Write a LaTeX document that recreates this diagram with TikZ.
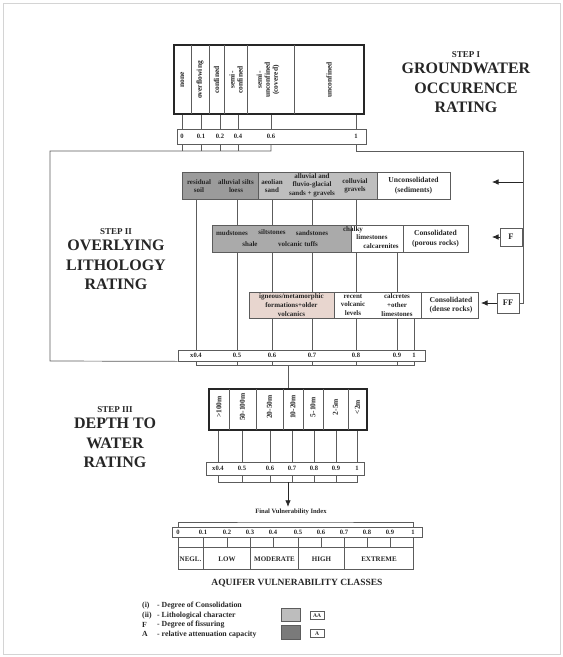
\documentclass[tikz,border=0pt]{standalone}
\usepackage{fontspec}
\setmainfont{Liberation Serif}
\usetikzlibrary{arrows.meta,backgrounds,positioning}
\definecolor{ink}{HTML}{262626}
\definecolor{linegray}{HTML}{5C5C5C}
\definecolor{framegray}{HTML}{D4D4D4}
\definecolor{darkfill}{HTML}{9B9B9B}
\definecolor{lightfill}{HTML}{BEBEBE}
\definecolor{midfill}{HTML}{AAAAAA}
\definecolor{pinkfill}{HTML}{E8D6CF}
\definecolor{legdark}{HTML}{7A7A7A}
\definecolor{leglight}{HTML}{BDBDBD}
\newcommand{\labfont}{\fontsize{7}{8.6}\selectfont\bfseries}
\newcommand{\colfont}{\fontsize{7.5}{8}\selectfont\bfseries}
\newcommand{\bigcellfont}{\fontsize{7.6}{9.5}\selectfont\bfseries}
\newcommand{\valfont}{\fontsize{6.6}{7}\selectfont\bfseries}
\newcommand{\titlefont}{\fontsize{16}{19.5}\selectfont\bfseries}
\newcommand{\stepfont}{\fontsize{9}{10}\selectfont\bfseries}
\tikzset{
  link/.style={draw=linegray,line width=0.7pt},
  flowarr/.style={-{Latex[length=6.5pt,width=5.5pt]},draw=ink,line width=0.7pt},
  cellbox/.style={draw=linegray,line width=0.7pt,inner sep=0pt,align=center,font=\labfont,text=ink},
  thickbox/.style={draw=ink,line width=1.6pt,inner sep=0pt},
  lab/.style={inner sep=0pt,align=center,font=\labfont,text=ink},
  vlab/.style={lab,rotate=90,font=\colfont},
  val/.style={inner sep=0pt,font=\valfont,text=ink},
  tagbox/.style={draw=linegray,fill=white,line width=0.7pt,inner sep=0pt,font=\fontsize{8.5}{9}\selectfont\bfseries,text=ink,minimum width=22pt},
  legbox/.style={draw=linegray,line width=0.6pt,inner sep=0pt,font=\fontsize{5.5}{6}\selectfont\bfseries,text=ink,minimum width=14pt,minimum height=8pt},
  steptitle/.style={inner sep=0pt,align=center,font=\titlefont,text=ink},
  steplab/.style={inner sep=0pt,font=\stepfont,text=ink},
  legtext/.style={inner sep=0pt,anchor=west,font=\fontsize{7.8}{9}\selectfont\bfseries,text=ink}
}

\begin{document}
\begin{tikzpicture}[x=1pt,y=-1pt]
  \useasboundingbox (0,0) rectangle (563,657);
  \draw[framegray,line width=0.8pt] (3,3) rectangle (560,654);

  % step I : groundwater occurrence
  \node[thickbox,minimum width=190pt,minimum height=69pt] (occ) at (269,79.5) {};
  \foreach \x in {191,209,224,247,294} \draw[link] (\x,45) -- (\x,114);
  \node[vlab] (oc1) at (182.5,80) {none};
  \node[vlab] (oc2) at (200,80) {overflowing};
  \node[vlab] (oc3) at (216.5,80) {confined};
  \node[vlab] (oc4) at (236,80) {semi-\\confined};
  \node[vlab] (oc5) at (268,80) {semi-\\unconfined\\(covered)};
  \node[vlab] (oc6) at (329,80) {unconfined};

  \node[steptitle] (t1) at (466,88) {GROUNDWATER\\OCCURENCE\\RATING};
  \node[steplab,above=5pt of t1] (st1) {STEP I};

  \node[draw=linegray,line width=0.7pt,inner sep=0pt,minimum width=189pt,minimum height=15pt] (sc1) at (271.5,136.5) {};
  \foreach \v/\x/\n in {0/182/a,0.1/201/b,0.2/220/c,0.4/238/d,0.6/271/e,1/356/f}
    \node[val] (s1\n) at (\x,136.5) {\v};
  \foreach \n in {a,b,c,d,e,f} \draw[link] (s1\n |- occ.south) -- (s1\n |- sc1.north);

  % step II : overlying lithology
  \coordinate (frnw) at (50,151);
  \coordinate (frsw) at (50,361);
  \coordinate (rgt) at (523,151);

  \node[cellbox,fill=darkfill,minimum width=76pt,minimum height=27pt] (r1a) at (220,185.5) {};
  \node[cellbox,fill=lightfill,minimum width=119pt,minimum height=27pt] (r1b) at (317.5,185.5) {};
  \node[cellbox,fill=white,minimum width=73pt,minimum height=27pt,font=\bigcellfont] (r1c) at (413.5,185.5) {Unconsolidated\\(sediments)};
  \node[lab] (l1a) at (199,186) {residual\\soil};
  \node[lab] (l1b) at (236,186) {alluvial silts\\loess};
  \node[lab] (l1c) at (272,186) {aeolian\\sand};
  \node[lab] (l1d) at (312,185) {alluvial and\\fluvio-glacial\\sands + gravels};
  \node[lab] (l1e) at (355,186) {colluvial\\gravels};

  \node[cellbox,fill=midfill,minimum width=139pt,minimum height=27pt] (r2a) at (281.5,238.5) {};
  \node[cellbox,fill=white,minimum width=52pt,minimum height=27pt] (r2b) at (377,238.5) {};
  \node[cellbox,fill=white,minimum width=65pt,minimum height=27pt,font=\bigcellfont] (r2c) at (435.5,238.5) {Consolidated\\(porous rocks)};
  \node[lab] (l2a) at (232,233) {mudstones};
  \node[lab] (l2b) at (272,232) {siltstones};
  \node[lab] (l2c) at (312,233) {sandstones};
  \node[lab] (l2d) at (250,244) {shale};
  \node[lab] (l2e) at (298,244) {volcanic tuffs};
  \node[lab] (l2f) at (353,229.5) {chalky};
  \node[lab] (l2g) at (372,237.5) {limestones};
  \node[lab] (l2h) at (381,246) {calcarenites};

  \node[cellbox,fill=pinkfill,minimum width=85pt,minimum height=26pt] (r3a) at (291.5,305) {igneous/metamorphic\\formations+older\\volcanics};
  \node[cellbox,fill=white,minimum width=87pt,minimum height=26pt] (r3b) at (377.5,305) {};
  \node[cellbox,fill=white,minimum width=57pt,minimum height=26pt] (r3c) at (449.5,305) {};
  \node[lab] (l3b) at (353,305) {recent\\volcanic\\levels};
  \node[lab] (l3c) at (397,305) {calcretes\\+other\\limestones};
  \node[lab,font=\bigcellfont] (l3d) at (451,305) {Consolidated\\(dense rocks)};

  \node[draw=linegray,fill=white,line width=0.7pt,inner sep=0pt,minimum width=247pt,minimum height=11pt] (sc2) at (301.5,355.5) {};
  \foreach \v/\x/\n in {x0.4/196/a,0.5/237/b,0.6/272/c,0.7/312/d,0.8/356/e,0.9/397/f,1/414/g}
    \node[val] (s2\n) at (\x,355.5) {\v};

  \begin{scope}[on background layer]
    \foreach \n/\r in {a/r1a,b/r1a,c/r1b,d/r1b,e/r1b,f/r2b,g/r3b}
      \draw[link] (s2\n |- \r.south) -- (s2\n |- sc2.north);
  \end{scope}

  \node[tagbox,minimum height=18pt] (fb) at (511,237) {F};
  \node[tagbox,minimum height=20pt] (ff) at (508,303) {FF};
  \coordinate (tip1) at (492,182);
  \coordinate (tip2) at (492,237);
  \coordinate (tip3) at (481,303);

  \foreach \n in {a,b,c,d} \draw[link] (s1\n |- sc1.south) -- (s1\n |- frnw);
  \draw[link] (s1e |- sc1.south) |- (frnw) -- (frsw) -- (sc2.south west);
  \draw[link] (s1f |- sc1.south) |- (rgt) |- (ff.east);
  \draw[flowarr] (rgt |- tip1) -- (tip1);
  \draw[flowarr] (fb.west) -- (tip2);
  \draw[flowarr] (ff.west) -- (tip3);

  \node[steptitle] (t2) at (116,265) {OVERLYING\\LITHOLOGY\\RATING};
  \node[steplab,above=5pt of t2] (st2) {STEP II};

  % step III : depth to water
  \coordinate (br2) at (288,365);
  \foreach \n in {b,c,d,e,f} \draw[link] (s2\n |- sc2.south) -- (s2\n |- br2);
  \draw[link] (s2a |- sc2.south) |- (s2g |- br2) -- (s2g |- sc2.south);

  \node[thickbox,minimum width=158pt,minimum height=41pt] (dep) at (288,409.5) {};
  \draw[link] (br2) -- (dep.north);
  \foreach \x in {229,256,283,303,323,348} \draw[link] (\x,389) -- (\x,430);
  \foreach \t/\x/\n in {>100m/219/a,50-100m/242.5/b,20-50m/269.5/c,10-20m/293/d,5-10m/313/e,2-5m/335.5/f,<2m/357.5/g}
    \node[vlab] (dp\n) at (\x,407) {\t};

  \node[steptitle] (t3) at (115,443) {DEPTH TO\\WATER\\RATING};
  \node[steplab,above=5pt of t3] (st3) {STEP III};

  \node[draw=linegray,line width=0.7pt,inner sep=0pt,minimum width=158pt,minimum height=13pt] (sc3) at (285,468.5) {};
  \foreach \v/\x/\n in {x0.4/218/a,0.5/242/b,0.6/270/c,0.7/292/d,0.8/314/e,0.9/336/f,1/357/g}
    \node[val] (s3\n) at (\x,468.5) {\v};
  \foreach \n in {a,b,c,d,e,f,g} \draw[link] (s3\n |- dep.south) -- (s3\n |- sc3.north);

  \coordinate (br3) at (288,482);
  \foreach \n in {b,c,d,e,f} \draw[link] (s3\n |- sc3.south) -- (s3\n |- br3);
  \draw[link] (s3a |- sc3.south) |- (s3g |- br3) -- (s3g |- sc3.south);

  % final index
  \node[lab,font=\fontsize{6.6}{8}\selectfont\bfseries] (fvi) at (291,512) {Final Vulnerability Index};
  \draw[flowarr] (br3) -- ([yshift=2pt]fvi.north -| br3);

  \node[draw=linegray,line width=0.7pt,inner sep=0pt,minimum width=250pt,minimum height=10pt] (sc4) at (297,532) {};
  \foreach \v/\x/\n in {0/178/0,0.1/203/1,0.2/227/2,0.3/250/3,0.4/273/4,0.5/298/5,0.6/321/6,0.7/344/7,0.8/367/8,0.9/390/9,1/413/10}
    \node[val] (f\n) at (\x,532) {\v};
  \coordinate (topbr) at (295,522);
  \draw[link] (f0 |- sc4.north) |- (topbr) -| (f10 |- sc4.north);

  \node[draw=linegray,line width=0.7pt,inner sep=0pt,minimum width=235pt,minimum height=10pt] (tk) at (295.5,542) {};
  \node[draw=linegray,line width=0.7pt,inner sep=0pt,minimum width=235pt,minimum height=22pt] (cl) at (295.5,558) {};
  \foreach \n in {1,3,5,7} \draw[link] (f\n |- tk.north) -- (f\n |- cl.south);
  \foreach \n in {2,4,6,8,9} \draw[link] (f\n |- tk.north) -- (f\n |- tk.south);
  \foreach \t/\x/\n in {NEGL./190.5/a,LOW/227/b,MODERATE/274.5/c,HIGH/321.5/d,EXTREME/379/e}
    \node[lab] (cls\n) at (\x,559) {\t};

  \node[inner sep=0pt,font=\fontsize{9.5}{11}\selectfont\bfseries,text=ink] (avc) at (297,583) {AQUIFER VULNERABILITY CLASSES};

  % legend
  \foreach \k/\t/\y/\n in {(i)/Degree of Consolidation/605.7/1,(ii)/Lithological character/615.7/2,F/Degree of fissuring/625/3,A/relative attenuation capacity/634.3/4}{
    \node[legtext] (lk\n) at (142,\y) {\k};
    \node[legtext] (lt\n) at (157,\y) {- \t};
  }
  \node[draw=linegray,fill=leglight,line width=0.6pt,inner sep=0pt,minimum width=19pt,minimum height=13.5pt] (lgl) at (290.5,615) {};
  \node[legbox] (lgaa) at (317,615.5) {AA};
  \node[draw=linegray,fill=legdark,line width=0.6pt,inner sep=0pt,minimum width=19pt,minimum height=13.5pt] (lgd) at (290.5,632.4) {};
  \node[legbox] (lga) at (317,633.3) {A};
\end{tikzpicture}
\end{document}
